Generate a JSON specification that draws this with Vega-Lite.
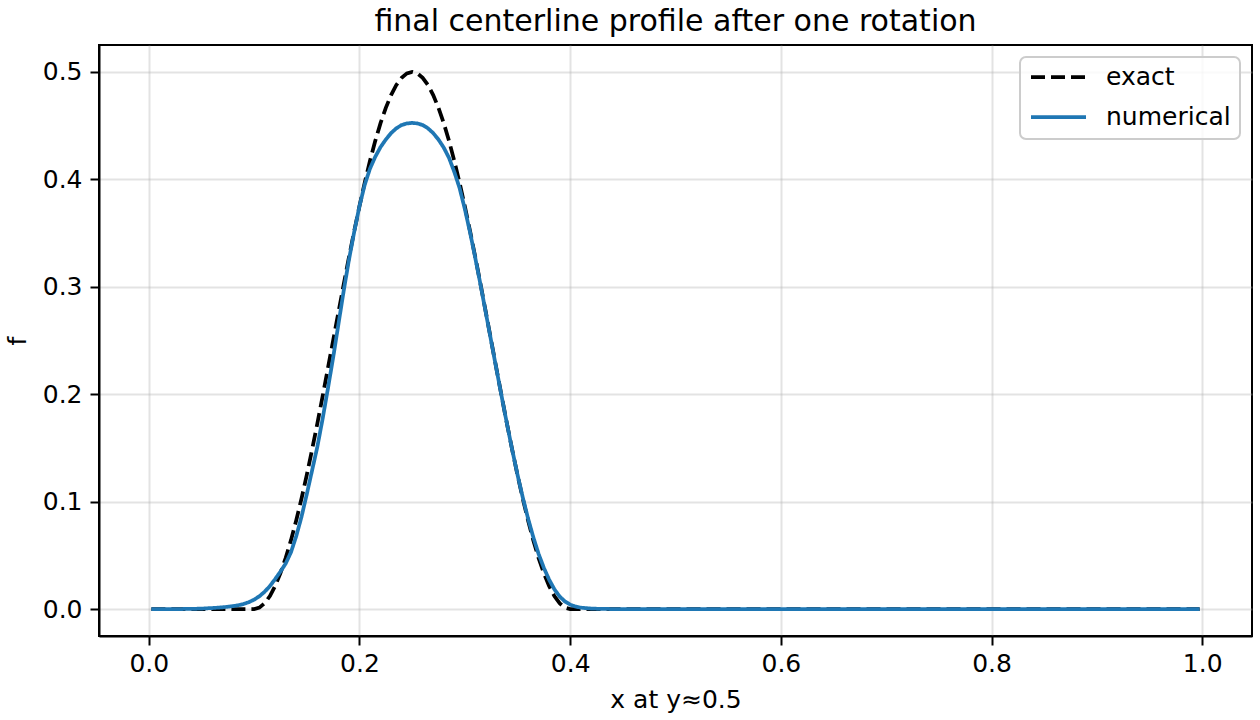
{
  "$schema": "https://vega.github.io/schema/vega-lite/v6.json",
  "description": "final centerline profile after one rotation",
  "autosize": "none",
  "width": 1153,
  "height": 591,
  "padding": {"left": 99, "top": 45, "right": 8, "bottom": 84},
  "background": "white",
  "title": {
    "text": "final centerline profile after one rotation",
    "fontSize": 30,
    "fontWeight": "normal",
    "color": "black",
    "offset": 8
  },
  "data": {
    "values": [
      {"x": 0.0025, "f": 0, "series": "exact"},
      {"x": 0.1, "f": 0, "series": "exact"},
      {"x": 0.105, "f": 0.0014, "series": "exact"},
      {"x": 0.11, "f": 0.0055, "series": "exact"},
      {"x": 0.115, "f": 0.0122, "series": "exact"},
      {"x": 0.12, "f": 0.0216, "series": "exact"},
      {"x": 0.125, "f": 0.0335, "series": "exact"},
      {"x": 0.13, "f": 0.0477, "series": "exact"},
      {"x": 0.135, "f": 0.0642, "series": "exact"},
      {"x": 0.14, "f": 0.0827, "series": "exact"},
      {"x": 0.145, "f": 0.103, "series": "exact"},
      {"x": 0.15, "f": 0.125, "series": "exact"},
      {"x": 0.155, "f": 0.1483, "series": "exact"},
      {"x": 0.16, "f": 0.1727, "series": "exact"},
      {"x": 0.165, "f": 0.198, "series": "exact"},
      {"x": 0.17, "f": 0.2239, "series": "exact"},
      {"x": 0.175, "f": 0.25, "series": "exact"},
      {"x": 0.18, "f": 0.2761, "series": "exact"},
      {"x": 0.185, "f": 0.302, "series": "exact"},
      {"x": 0.19, "f": 0.3273, "series": "exact"},
      {"x": 0.195, "f": 0.3517, "series": "exact"},
      {"x": 0.2, "f": 0.375, "series": "exact"},
      {"x": 0.205, "f": 0.397, "series": "exact"},
      {"x": 0.21, "f": 0.4173, "series": "exact"},
      {"x": 0.215, "f": 0.4358, "series": "exact"},
      {"x": 0.22, "f": 0.4523, "series": "exact"},
      {"x": 0.225, "f": 0.4665, "series": "exact"},
      {"x": 0.23, "f": 0.4784, "series": "exact"},
      {"x": 0.235, "f": 0.4878, "series": "exact"},
      {"x": 0.24, "f": 0.4945, "series": "exact"},
      {"x": 0.245, "f": 0.4986, "series": "exact"},
      {"x": 0.25, "f": 0.5, "series": "exact"},
      {"x": 0.255, "f": 0.4986, "series": "exact"},
      {"x": 0.26, "f": 0.4945, "series": "exact"},
      {"x": 0.265, "f": 0.4878, "series": "exact"},
      {"x": 0.27, "f": 0.4784, "series": "exact"},
      {"x": 0.275, "f": 0.4665, "series": "exact"},
      {"x": 0.28, "f": 0.4523, "series": "exact"},
      {"x": 0.285, "f": 0.4358, "series": "exact"},
      {"x": 0.29, "f": 0.4173, "series": "exact"},
      {"x": 0.295, "f": 0.397, "series": "exact"},
      {"x": 0.3, "f": 0.375, "series": "exact"},
      {"x": 0.305, "f": 0.3517, "series": "exact"},
      {"x": 0.31, "f": 0.3273, "series": "exact"},
      {"x": 0.315, "f": 0.302, "series": "exact"},
      {"x": 0.32, "f": 0.2761, "series": "exact"},
      {"x": 0.325, "f": 0.25, "series": "exact"},
      {"x": 0.33, "f": 0.2239, "series": "exact"},
      {"x": 0.335, "f": 0.198, "series": "exact"},
      {"x": 0.34, "f": 0.1727, "series": "exact"},
      {"x": 0.345, "f": 0.1483, "series": "exact"},
      {"x": 0.35, "f": 0.125, "series": "exact"},
      {"x": 0.355, "f": 0.103, "series": "exact"},
      {"x": 0.36, "f": 0.0827, "series": "exact"},
      {"x": 0.365, "f": 0.0642, "series": "exact"},
      {"x": 0.37, "f": 0.0477, "series": "exact"},
      {"x": 0.375, "f": 0.0335, "series": "exact"},
      {"x": 0.38, "f": 0.0216, "series": "exact"},
      {"x": 0.385, "f": 0.0122, "series": "exact"},
      {"x": 0.39, "f": 0.0055, "series": "exact"},
      {"x": 0.395, "f": 0.0014, "series": "exact"},
      {"x": 0.4, "f": 0, "series": "exact"},
      {"x": 0.9975, "f": 0, "series": "exact"},

      {"x": 0.0025, "f": 0, "series": "numerical"},
      {"x": 0.03, "f": 0.0001, "series": "numerical"},
      {"x": 0.04, "f": 0.0002, "series": "numerical"},
      {"x": 0.05, "f": 0.0005, "series": "numerical"},
      {"x": 0.06, "f": 0.001, "series": "numerical"},
      {"x": 0.07, "f": 0.0017, "series": "numerical"},
      {"x": 0.08, "f": 0.0028, "series": "numerical"},
      {"x": 0.085, "f": 0.0036, "series": "numerical"},
      {"x": 0.09, "f": 0.0048, "series": "numerical"},
      {"x": 0.095, "f": 0.0065, "series": "numerical"},
      {"x": 0.1, "f": 0.0088, "series": "numerical"},
      {"x": 0.105, "f": 0.012, "series": "numerical"},
      {"x": 0.11, "f": 0.0162, "series": "numerical"},
      {"x": 0.115, "f": 0.0215, "series": "numerical"},
      {"x": 0.12, "f": 0.028, "series": "numerical"},
      {"x": 0.125, "f": 0.035, "series": "numerical"},
      {"x": 0.13, "f": 0.0425, "series": "numerical"},
      {"x": 0.135, "f": 0.053, "series": "numerical"},
      {"x": 0.14, "f": 0.068, "series": "numerical"},
      {"x": 0.145, "f": 0.086, "series": "numerical"},
      {"x": 0.15, "f": 0.107, "series": "numerical"},
      {"x": 0.155, "f": 0.129, "series": "numerical"},
      {"x": 0.16, "f": 0.151, "series": "numerical"},
      {"x": 0.165, "f": 0.177, "series": "numerical"},
      {"x": 0.17, "f": 0.205, "series": "numerical"},
      {"x": 0.175, "f": 0.234, "series": "numerical"},
      {"x": 0.18, "f": 0.265, "series": "numerical"},
      {"x": 0.185, "f": 0.296, "series": "numerical"},
      {"x": 0.19, "f": 0.325, "series": "numerical"},
      {"x": 0.195, "f": 0.351, "series": "numerical"},
      {"x": 0.2, "f": 0.375, "series": "numerical"},
      {"x": 0.205, "f": 0.395, "series": "numerical"},
      {"x": 0.21, "f": 0.41, "series": "numerical"},
      {"x": 0.215, "f": 0.421, "series": "numerical"},
      {"x": 0.22, "f": 0.43, "series": "numerical"},
      {"x": 0.225, "f": 0.437, "series": "numerical"},
      {"x": 0.23, "f": 0.443, "series": "numerical"},
      {"x": 0.235, "f": 0.4475, "series": "numerical"},
      {"x": 0.24, "f": 0.4505, "series": "numerical"},
      {"x": 0.245, "f": 0.452, "series": "numerical"},
      {"x": 0.25, "f": 0.4525, "series": "numerical"},
      {"x": 0.255, "f": 0.452, "series": "numerical"},
      {"x": 0.26, "f": 0.4505, "series": "numerical"},
      {"x": 0.265, "f": 0.4475, "series": "numerical"},
      {"x": 0.27, "f": 0.443, "series": "numerical"},
      {"x": 0.275, "f": 0.437, "series": "numerical"},
      {"x": 0.28, "f": 0.4295, "series": "numerical"},
      {"x": 0.285, "f": 0.42, "series": "numerical"},
      {"x": 0.29, "f": 0.407, "series": "numerical"},
      {"x": 0.295, "f": 0.392, "series": "numerical"},
      {"x": 0.3, "f": 0.3725, "series": "numerical"},
      {"x": 0.305, "f": 0.3505, "series": "numerical"},
      {"x": 0.31, "f": 0.3265, "series": "numerical"},
      {"x": 0.315, "f": 0.3015, "series": "numerical"},
      {"x": 0.32, "f": 0.2755, "series": "numerical"},
      {"x": 0.325, "f": 0.2495, "series": "numerical"},
      {"x": 0.33, "f": 0.2235, "series": "numerical"},
      {"x": 0.335, "f": 0.1978, "series": "numerical"},
      {"x": 0.34, "f": 0.1725, "series": "numerical"},
      {"x": 0.345, "f": 0.1482, "series": "numerical"},
      {"x": 0.35, "f": 0.1252, "series": "numerical"},
      {"x": 0.355, "f": 0.104, "series": "numerical"},
      {"x": 0.36, "f": 0.0845, "series": "numerical"},
      {"x": 0.365, "f": 0.067, "series": "numerical"},
      {"x": 0.37, "f": 0.0515, "series": "numerical"},
      {"x": 0.375, "f": 0.0385, "series": "numerical"},
      {"x": 0.38, "f": 0.0275, "series": "numerical"},
      {"x": 0.385, "f": 0.0185, "series": "numerical"},
      {"x": 0.39, "f": 0.0118, "series": "numerical"},
      {"x": 0.395, "f": 0.0072, "series": "numerical"},
      {"x": 0.4, "f": 0.0042, "series": "numerical"},
      {"x": 0.405, "f": 0.0024, "series": "numerical"},
      {"x": 0.41, "f": 0.0014, "series": "numerical"},
      {"x": 0.42, "f": 0.0005, "series": "numerical"},
      {"x": 0.43, "f": 0.0002, "series": "numerical"},
      {"x": 0.45, "f": 0, "series": "numerical"},
      {"x": 0.9975, "f": 0, "series": "numerical"}
    ]
  },
  "mark": {"type": "line", "strokeWidth": 3.75, "strokeCap": "butt", "clip": true},
  "encoding": {
    "x": {
      "field": "x",
      "type": "quantitative",
      "title": "x at y≈0.5",
      "scale": {"domain": [-0.04725, 1.04725], "nice": false, "zero": false},
      "axis": {"values": [0, 0.2, 0.4, 0.6, 0.8, 1.0], "format": ".1f"}
    },
    "y": {
      "field": "f",
      "type": "quantitative",
      "title": "f",
      "scale": {"domain": [-0.025, 0.525], "nice": false, "zero": false},
      "axis": {"values": [0, 0.1, 0.2, 0.3, 0.4, 0.5], "format": ".1f"}
    },
    "color": {
      "field": "series",
      "type": "nominal",
      "title": null,
      "scale": {"domain": ["exact", "numerical"], "range": ["#000000", "#1f77b4"]}
    },
    "strokeDash": {
      "field": "series",
      "type": "nominal",
      "title": null,
      "scale": {"domain": ["exact", "numerical"], "range": [[14, 6], [1, 0]]}
    }
  },
  "config": {
    "font": "DejaVu Sans",
    "view": {"stroke": "black", "strokeWidth": 2},
    "axis": {
      "domainColor": "black",
      "domainWidth": 2,
      "tickColor": "black",
      "tickWidth": 2,
      "tickSize": 9,
      "labelFontSize": 25,
      "labelColor": "black",
      "labelPadding": 6,
      "titleFontSize": 25,
      "titleFontWeight": "normal",
      "titleColor": "black",
      "gridColor": "#b0b0b0",
      "gridOpacity": 0.35,
      "gridWidth": 2
    },
    "axisX": {"titlePadding": 11},
    "axisY": {"titlePadding": 12, "labelPadding": 8},
    "legend": {
      "orient": "top-right",
      "offset": 12,
      "padding": 9,
      "strokeColor": "#cccccc",
      "strokeWidth": 2,
      "cornerRadius": 6,
      "fillColor": "rgba(255,255,255,0.8)",
      "labelFontSize": 25,
      "labelColor": "black",
      "labelOffset": 18,
      "symbolType": "stroke",
      "symbolSize": 3025,
      "symbolStrokeWidth": 3.75,
      "clipHeight": 22,
      "rowPadding": 15
    }
  }
}
